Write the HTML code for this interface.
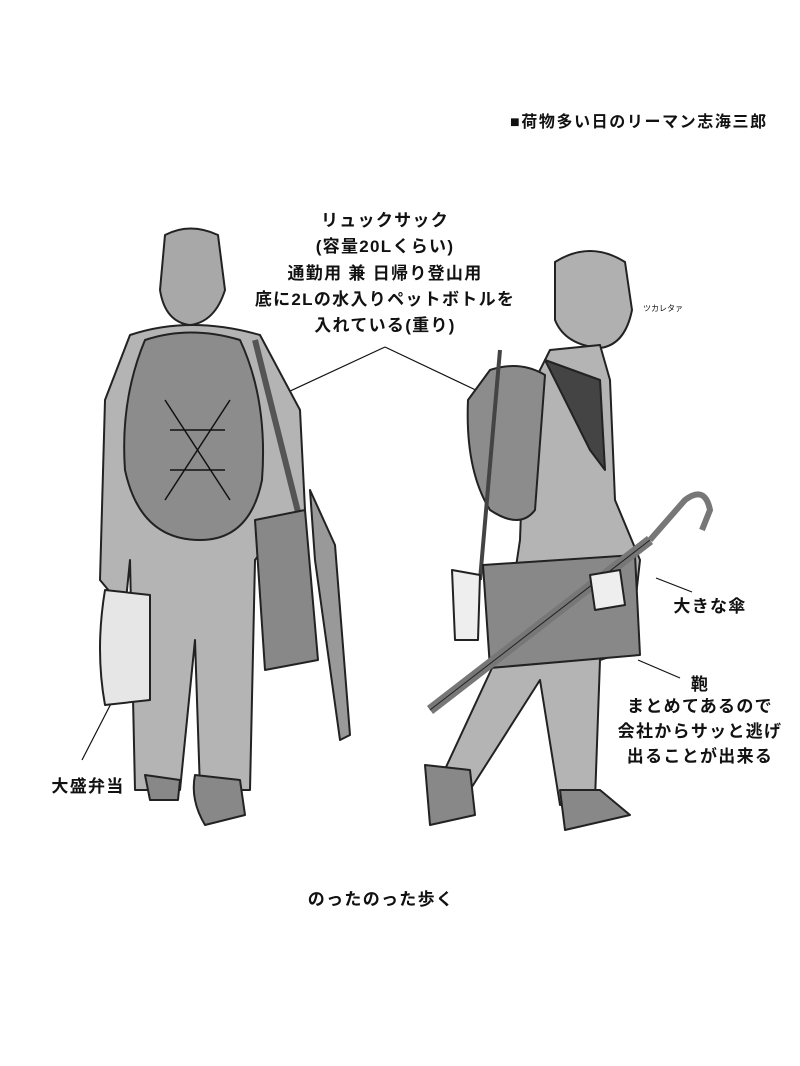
<!DOCTYPE html>
<html><head><meta charset="utf-8"><style>
html,body{margin:0;padding:0;background:#fff;}
svg{display:block}
text{font-family:"Liberation Sans","Noto Sans CJK JP",sans-serif;fill:#111;}
</style></head><body>
<svg width="800" height="1066" viewBox="0 0 800 1066" xmlns="http://www.w3.org/2000/svg">
<rect width="800" height="1066" fill="#fff"/>
<text x="510" y="127" font-size="16" font-weight="bold" letter-spacing="1.6">■荷物多い日のリーマン志海三郎</text>

<g text-anchor="middle" font-size="17" font-weight="bold" letter-spacing="1.3">
<text x="385" y="226">リュックサック</text>
<text x="385" y="252">(容量20Lくらい)</text>
<text x="385" y="279">通勤用 兼 日帰り登山用</text>
<text x="385" y="305">底に2Lの水入りペットボトルを</text>
<text x="385" y="331">入れている(重り)</text>
<text x="88" y="792">大盛弁当</text>
<text x="710" y="612">大きな傘</text>
<text x="700" y="690">鞄</text>
<text x="700" y="712">まとめてあるので</text>
<text x="700" y="737">会社からサッと逃げ</text>
<text x="700" y="762">出ることが出来る</text>
<text x="381" y="905">のったのった歩く</text>
</g>
<text x="643" y="311" font-size="8">ツカレタァ</text>

<g stroke="#111" stroke-width="1.2" fill="none">
<line x1="385" y1="347" x2="232" y2="418"/>
<line x1="385" y1="347" x2="482" y2="393"/>
<line x1="82" y1="760" x2="118" y2="690"/>
<line x1="656" y1="578" x2="692" y2="592"/>
<line x1="638" y1="660" x2="680" y2="678"/>
</g>

<!-- Back figure -->
<g stroke="#222" stroke-width="2" stroke-linejoin="round">
<path d="M165 235 Q190 222 218 235 L225 290 Q215 322 190 325 Q165 322 160 290 Z" fill="#a8a8a8"/>
<path d="M130 335 Q190 315 260 335 L300 410 L305 510 L270 540 L255 560 L250 790 L200 790 L195 640 L180 790 L135 790 L130 560 L125 610 L100 580 L105 400 Z" fill="#b4b4b4"/>
<path d="M145 340 Q190 325 240 340 Q268 400 262 480 Q250 540 200 540 Q140 540 125 470 Q120 400 145 340 Z" fill="#8c8c8c"/>
<path d="M165 400 L230 500 M230 400 L165 500 M170 430 L225 430 M170 470 L225 470" stroke="#111" stroke-width="1.5"/>
<path d="M255 340 L300 520" stroke-width="6" stroke="#555"/>
<path d="M255 520 L305 510 L318 660 L265 670 Z" fill="#888"/>
<path d="M310 490 L335 545 L350 735 L340 740 L315 560 Z" fill="#999"/>
<path d="M105 590 L150 595 L150 700 L105 705 Q95 650 105 590 Z" fill="#e6e6e6"/>
<path d="M195 775 L240 780 L245 815 L205 825 Q190 800 195 775 Z" fill="#888"/>
<path d="M145 775 L180 780 L178 800 L150 800 Z" fill="#888"/>
</g>

<!-- Side figure -->
<g stroke="#222" stroke-width="2" stroke-linejoin="round">
<path d="M555 262 Q590 240 625 262 L632 310 Q625 345 600 348 Q565 345 555 320 Z" fill="#b0b0b0"/>
<path d="M550 350 L600 345 L610 380 L615 500 L640 560 L630 650 L600 660 L595 800 L560 805 L540 680 L470 790 L440 780 L505 640 L520 540 L525 400 Z" fill="#b4b4b4"/>
<path d="M490 370 Q520 360 545 375 L535 510 Q520 530 490 510 Q465 470 468 400 Z" fill="#8c8c8c"/>
<path d="M545 360 L600 380 L605 470 L590 450 Z" fill="#444"/>
<path d="M480 580 L500 350" stroke="#444" stroke-width="4"/>
<path d="M483 565 L635 555 L640 655 L490 668 Z" fill="#888"/>
<path d="M430 710 L650 540" stroke="#777" stroke-width="10"/>
<path d="M430 710 L650 540" stroke="#222" stroke-width="1"/>
<path d="M650 540 L685 500 Q705 485 710 510 L702 530" stroke-width="6" stroke="#777" fill="none"/>
<path d="M590 575 L620 570 L625 605 L595 610 Z" fill="#eee"/>
<path d="M452 570 L480 575 L478 640 L455 640 Z" fill="#eee"/>
<path d="M425 765 L470 770 L475 815 L430 825 Z" fill="#888"/>
<path d="M560 790 L600 790 L630 815 L565 830 Z" fill="#888"/>
</g>
</svg>
</body></html>
